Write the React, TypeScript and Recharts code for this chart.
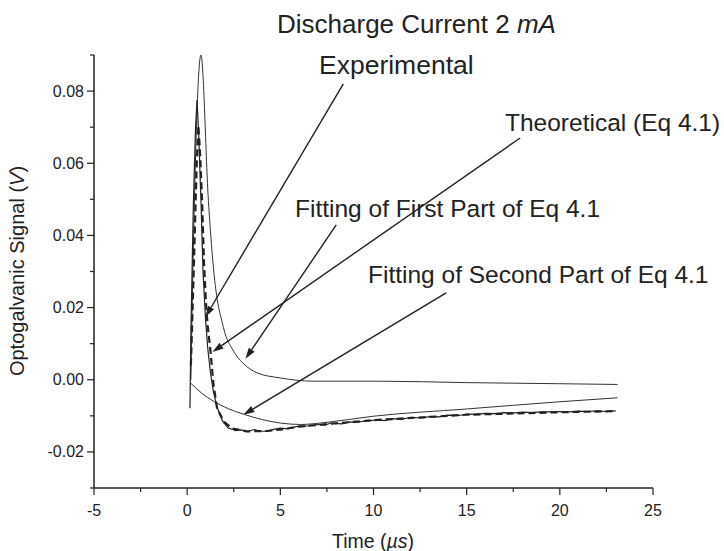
import React from "react";
import { LineChart, Line, XAxis, YAxis, ReferenceLine, Customized } from "recharts";

// time in microseconds, signal in volts
const expTime = [0.15, 0.17, 0.2, 0.33, 0.45, 0.53, 0.62, 0.75, 0.85, 0.98, 1.1, 1.25, 1.4, 1.6, 1.9, 2.2, 2.45, 2.6, 2.9, 3.2, 3.6, 3.9, 4.3, 4.7, 5.0, 5.4, 5.9, 6.5, 7.0, 7.4, 7.7, 8.3, 8.7, 9.0, 9.5, 10.2, 10.6, 11.0, 11.5, 12.0, 12.6, 13.0, 13.5, 14.0, 14.6, 15.0, 15.5, 16.0, 16.6, 17.0, 17.6, 18.0, 18.5, 19.0, 19.5, 20.0, 20.5, 21.0, 21.5, 22.0, 22.5, 23.0];
const expSignal = [-0.0079, 0.0, 0.013, 0.048, 0.07, 0.0775, 0.068, 0.048, 0.03, 0.0172, 0.009, 0.002, -0.003, -0.0075, -0.0115, -0.0134, -0.0138, -0.0141, -0.0139, -0.0144, -0.0138, -0.0142, -0.0143, -0.0137, -0.0134, -0.0136, -0.0129, -0.0128, -0.0124, -0.0126, -0.012, -0.0122, -0.0117, -0.0118, -0.0115, -0.0111, -0.0113, -0.0108, -0.011, -0.0104, -0.0106, -0.0102, -0.0103, -0.0098, -0.0099, -0.0095, -0.0096, -0.0093, -0.0094, -0.0091, -0.0092, -0.009, -0.0091, -0.0089, -0.0089, -0.0088, -0.0089, -0.0087, -0.0088, -0.0086, -0.0088, -0.0086];

const theoTime = [0.2, 0.35, 0.5, 0.6, 0.7, 0.8, 0.9, 1.0, 1.1, 1.25, 1.41, 1.6, 1.95, 2.4, 3.2, 4.3, 5.0, 6.0, 7.7, 10, 15, 20, 23];
const theoSignal = [0.004, 0.03, 0.058, 0.0705, 0.062, 0.0496, 0.033, 0.022, 0.015, 0.008, -0.0012, -0.0078, -0.0115, -0.0135, -0.0143, -0.0142, -0.0138, -0.013, -0.0122, -0.0112, -0.0097, -0.009, -0.0087];

const firstTime = [0.2, 0.34, 0.74, 1.14, 1.41, 1.95, 2.48, 3.0, 3.76, 5.0, 6.8, 10.4, 15, 20, 23.1];
const firstSignal = [0.0, 0.0385, 0.09, 0.0496, 0.031, 0.0144, 0.008, 0.0046, 0.0019, 0.0005, -0.0004, -0.0004, -0.0008, -0.0011, -0.0013];

const secondTime = [0.18, 0.8, 1.4, 2.2, 3.0, 4.0, 5.0, 6.1, 7.5, 10, 15, 20, 23.1];
const secondSignal = [-0.0009, -0.0038, -0.0059, -0.008, -0.0095, -0.011, -0.012, -0.0124, -0.0118, -0.0101, -0.0081, -0.0061, -0.005];

const xTicks = [-5, -2.5, 0, 2.5, 5, 7.5, 10, 12.5, 15, 17.5, 20, 22.5, 25];
const yTicks = [-0.03, -0.02, -0.01, 0, 0.01, 0.02, 0.03, 0.04, 0.05, 0.06, 0.07, 0.08, 0.09];

// arrow tail -> head, in data units
const arrowTailX = [8.38, 17.87, 8.0, 13.9];
const arrowTailY = [0.082, 0.067, 0.0429, 0.0241];
const arrowHeadX = [0.98, 1.36, 3.13, 3.02];
const arrowHeadY = [0.0174, 0.0077, 0.0058, -0.0097];

const toPoints = (xs: number[], ys: number[]) => xs.map((x, i) => ({ x, y: ys[i] }));

const ink = "#222";
const font = "'Liberation Sans', Arial, sans-serif";

const XTick = (props: any) => {
  const { x, y, payload } = props;
  const major = payload.value % 5 === 0;
  return (
    <g>
      <line x1={x} y1={y} x2={x} y2={y + (major ? 7 : 4)} stroke={ink} strokeWidth={1.2} />
      {major && (
        <text x={x} y={y + 28} textAnchor="middle" fontSize={16} fill={ink} fontFamily={font}>
          {payload.value}
        </text>
      )}
    </g>
  );
};

const YTick = (props: any) => {
  const { x, y, payload } = props;
  const major = Math.round(payload.value * 100) % 2 === 0;
  return (
    <g>
      <line x1={x} y1={y} x2={x - (major ? 7 : 4)} y2={y} stroke={ink} strokeWidth={1.2} />
      {major && (
        <text x={x - 10} y={y + 5.5} textAnchor="end" fontSize={16} fill={ink} fontFamily={font}>
          {payload.value.toFixed(2)}
        </text>
      )}
    </g>
  );
};

const Arrow = (p: any) => {
  const { x1, y1, x2, y2 } = p;
  const dx = x2 - x1;
  const dy = y2 - y1;
  const len = Math.sqrt(dx * dx + dy * dy) || 1;
  const ux = dx / len;
  const uy = dy / len;
  const bx = x2 - ux * 11;
  const by = y2 - uy * 11;
  const pts = `${x2},${y2} ${bx - uy * 3.5},${by + ux * 3.5} ${bx + uy * 3.5},${by - ux * 3.5}`;
  return (
    <g>
      <line x1={x1} y1={y1} x2={bx} y2={by} stroke={ink} strokeWidth={1.4} />
      <polygon points={pts} fill={ink} />
    </g>
  );
};

const Labels = () => (
  <g fontFamily={font} fill={ink}>
    <text x={277} y={33} fontSize={26}>
      Discharge Current 2 <tspan fontStyle="italic">mA</tspan>
    </text>
    <text x={319} y={74} fontSize={26.5}>Experimental</text>
    <text x={505} y={131} fontSize={24.5}>Theoretical (Eq 4.1)</text>
    <text x={295} y={217} fontSize={24.5}>Fitting of First Part of Eq 4.1</text>
    <text x={368} y={283} fontSize={24.5}>Fitting of Second Part of Eq 4.1</text>
    <text x={373} y={548} fontSize={19.5} textAnchor="middle">
      Time (<tspan fontStyle="italic">µs</tspan>)
    </text>
    <text x={24} y={271} fontSize={20} textAnchor="middle" transform="rotate(-90 24 271)">
      Optogalvanic Signal (<tspan fontStyle="italic">V</tspan>)
    </text>
  </g>
);

export default function App() {
  const experimental = toPoints(expTime, expSignal);
  const theoretical = toPoints(theoTime, theoSignal);
  const firstPart = toPoints(firstTime, firstSignal);
  const secondPart = toPoints(secondTime, secondSignal);

  return (
    <div style={{ position: "absolute", left: 0, top: 0, width: 724, height: 551, background: "#fff", fontFamily: font }}>
      <LineChart width={724} height={551} margin={{ top: 55, right: 71, bottom: 0, left: 0 }}>
        <XAxis
          type="number"
          dataKey="x"
          domain={[-5, 25]}
          ticks={xTicks}
          tick={<XTick />}
          tickLine={false}
          tickSize={0}
          tickMargin={0}
          height={63}
          interval={0}
          axisLine={{ stroke: ink, strokeWidth: 1.5 }}
          allowDataOverflow
        />
        <YAxis
          type="number"
          dataKey="y"
          domain={[-0.03, 0.09]}
          ticks={yTicks}
          tick={<YTick />}
          tickLine={false}
          tickSize={0}
          tickMargin={0}
          width={94}
          interval={0}
          axisLine={{ stroke: ink, strokeWidth: 1.5 }}
          allowDataOverflow
        />
        <Line data={secondPart} dataKey="y" type="monotone" stroke="#333" strokeWidth={1} dot={false} isAnimationActive={false} />
        <Line data={firstPart} dataKey="y" type="monotone" stroke="#333" strokeWidth={1} dot={false} isAnimationActive={false} />
        <Line data={theoretical} dataKey="y" type="linear" stroke={ink} strokeWidth={2.2} strokeDasharray="7 4" dot={false} isAnimationActive={false} />
        <Line data={experimental} dataKey="y" type="linear" stroke={ink} strokeWidth={1.2} dot={false} isAnimationActive={false} />
        {arrowTailX.map((tx, i) => (
          <ReferenceLine
            key={i}
            segment={[
              { x: tx, y: arrowTailY[i] },
              { x: arrowHeadX[i], y: arrowHeadY[i] },
            ]}
            ifOverflow="visible"
            shape={(p: any) => <Arrow {...p} />}
          />
        ))}
        <Customized component={<Labels />} />
      </LineChart>
    </div>
  );
}
